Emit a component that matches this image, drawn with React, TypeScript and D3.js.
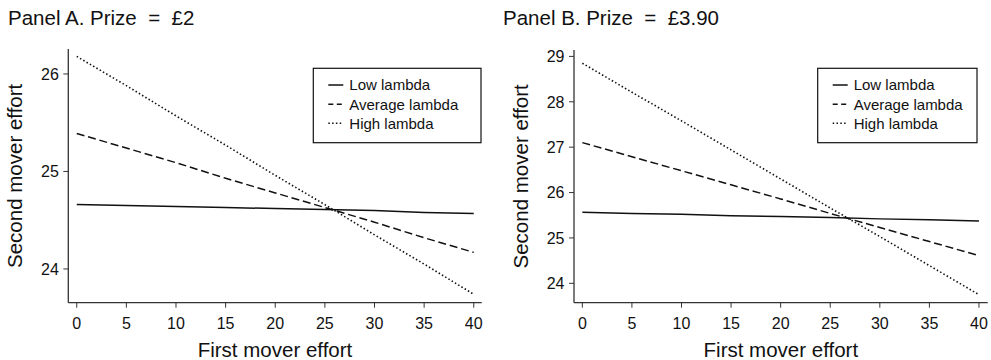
import React from "react";
import * as d3 from "d3";

const xValues = [0, 5, 10, 15, 20, 25, 30, 35, 40];
const xTicks = [0, 5, 10, 15, 20, 25, 30, 35, 40];

const seriesNames = ["Low lambda", "Average lambda", "High lambda"];

const aLow = [24.66, 24.65, 24.64, 24.63, 24.62, 24.61, 24.6, 24.58, 24.57];
const aAvg = [25.39, 25.24, 25.09, 24.93, 24.78, 24.63, 24.48, 24.32, 24.17];
const aHigh = [26.18, 25.88, 25.57, 25.27, 24.96, 24.66, 24.35, 24.05, 23.74];
const aYTicks = [24, 25, 26];

const bLow = [25.565, 25.54, 25.52, 25.49, 25.47, 25.45, 25.42, 25.4, 25.375];
const bAvg = [27.1, 26.79, 26.48, 26.17, 25.86, 25.54, 25.23, 24.92, 24.61];
const bHigh = [28.85, 28.21, 27.58, 26.94, 26.3, 25.66, 25.03, 24.39, 23.75];
const bYTicks = [24, 25, 26, 27, 28, 29];

const FONT = "'Liberation Sans', Arial, Helvetica, sans-serif";
const INK = "#111";

const dashes = [null, "8,3.8", "1.5,2.3"];

type PanelProps = {
  title: string;
  series: number[][];
  yTicks: number[];
  yDomain: [number, number];
  xDomain: [number, number];
  xRange: [number, number];
  top: number;
  bottom: number;
  titleX: number;
  yLabelX: number;
  legend: { x0: number; x1: number; y0: number; y1: number };
};

function Panel(p: PanelProps) {
  const x = d3.scaleLinear().domain(p.xDomain).range(p.xRange);
  const y = d3.scaleLinear().domain(p.yDomain).range([p.bottom, p.top]);
  const line = d3
    .line<number>()
    .x((_, i) => x(xValues[i]))
    .y((d) => y(d));
  const [ax0, ax1] = p.xRange;
  const lg = p.legend;
  const rowY = [lg.y0 + 16.7, lg.y0 + 36, lg.y0 + 55];
  return (
    <g fontFamily={FONT} fill={INK}>
      <text x={p.titleX} y={25} fontSize={20.5} style={{ whiteSpace: "pre" }}>
        {p.title}
      </text>
      {/* axes */}
      <line x1={ax0} x2={ax0} y1={p.top} y2={p.bottom} stroke="#333" strokeWidth={1.3} />
      <line x1={ax0} x2={ax1} y1={p.bottom} y2={p.bottom} stroke="#333" strokeWidth={1.3} />
      {p.yTicks.map((t) => (
        <g key={"y" + t}>
          <line x1={ax0 - 5} x2={ax0} y1={y(t)} y2={y(t)} stroke="#333" strokeWidth={1} />
          <text x={ax0 - 9.5} y={y(t)} dy="0.36em" textAnchor="end" fontSize={16}>
            {t}
          </text>
        </g>
      ))}
      {xTicks.map((t) => (
        <g key={"x" + t}>
          <line x1={x(t)} x2={x(t)} y1={p.bottom} y2={p.bottom + 5} stroke="#333" strokeWidth={1} />
          <text x={x(t)} y={329} textAnchor="middle" fontSize={16}>
            {t}
          </text>
        </g>
      ))}
      <text x={(ax0 + ax1) / 2} y={357} textAnchor="middle" fontSize={20.5}>
        First mover effort
      </text>
      <text
        transform={`translate(${p.yLabelX},${(p.top + p.bottom) / 2}) rotate(-90)`}
        textAnchor="middle"
        dy="0.35em"
        fontSize={20.5}
      >
        Second mover effort
      </text>
      {/* series */}
      {p.series.map((s, i) => (
        <path
          key={"s" + i}
          d={line(s) || ""}
          fill="none"
          stroke={INK}
          strokeWidth={i === 0 ? 1.5 : i === 1 ? 1.5 : 1.6}
          strokeDasharray={dashes[i] || undefined}
        />
      ))}
      {/* legend */}
      <rect
        x={lg.x0}
        y={lg.y0}
        width={lg.x1 - lg.x0}
        height={lg.y1 - lg.y0}
        fill="#fff"
        stroke={INK}
        strokeWidth={1.2}
      />
      {seriesNames.map((n, i) => (
        <g key={"l" + i}>
          <line
            x1={lg.x0 + 15}
            x2={lg.x0 + 30}
            y1={rowY[i]}
            y2={rowY[i]}
            stroke={INK}
            strokeWidth={1.5}
            strokeDasharray={i === 1 ? "5,3.5" : dashes[i] || undefined}
          />
          <text x={lg.x0 + 36} y={rowY[i]} dy="0.36em" fontSize={15}>
            {n}
          </text>
        </g>
      ))}
    </g>
  );
}

export default function App() {
  return (
    <svg
      width={991}
      height={360}
      style={{ position: "absolute", left: 0, top: 0, background: "#fff" }}
    >
      <rect width={991} height={360} fill="#fff" />
      <Panel
        title="Panel A. Prize  =  £2"
        series={[aLow, aAvg, aHigh]}
        yTicks={aYTicks}
        yDomain={[23.654, 26.256]}
        xDomain={[-0.85, 40.8]}
        xRange={[68.3, 481.7]}
        top={49}
        bottom={302.7}
        titleX={8}
        yLabelX={15}
        legend={{ x0: 313.3, x1: 481, y0: 68.3, y1: 142.7 }}
      />
      <Panel
        title="Panel B. Prize  =  £3.90"
        series={[bLow, bAvg, bHigh]}
        yTicks={bYTicks}
        yDomain={[23.573, 29.141]}
        xDomain={[-0.84, 40.88]}
        xRange={[574, 987.7]}
        top={50}
        bottom={302.7}
        titleX={503}
        yLabelX={521}
        legend={{ x0: 817.7, x1: 977, y0: 68.3, y1: 142.7 }}
      />
    </svg>
  );
}
